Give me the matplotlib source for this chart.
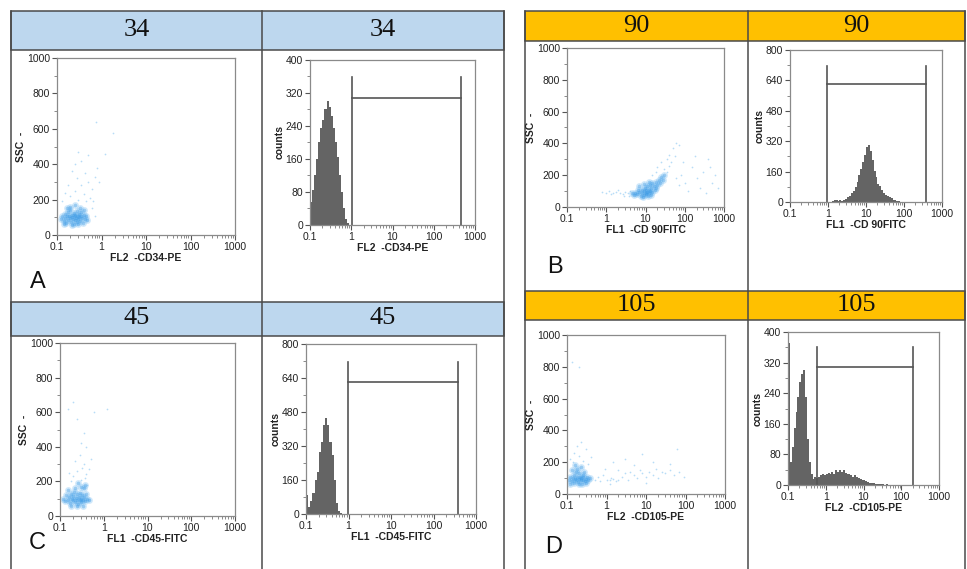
import numpy as np
import matplotlib.pyplot as plt
from matplotlib.patches import Rectangle
from matplotlib.ticker import LogLocator, NullFormatter

W, H = 967, 569

# header titles and panel letters
titles_left = ['34', '45']
titles_right = ['90', '105']
letters = ['A', 'B', 'C', 'D']

# ---- dot plots (FLx vs SSC) ----
cd34_core_x = [0.12, 0.13, 0.14, 0.15, 0.15, 0.16, 0.17, 0.18, 0.18, 0.19, 0.2, 0.2, 0.21, 0.22, 0.22,
               0.23, 0.24, 0.24, 0.25, 0.25, 0.26, 0.27, 0.28, 0.28, 0.29, 0.3, 0.31, 0.32, 0.33, 0.34,
               0.35, 0.37, 0.38, 0.4, 0.42, 0.45, 0.48, 0.2, 0.26, 0.33, 0.17, 0.3, 0.22, 0.14, 0.4]
cd34_core_y = [90, 110, 80, 120, 95, 70, 105, 130, 85, 110, 95, 140, 75, 115, 100,
               90, 125, 60, 105, 85, 115, 95, 135, 75, 110, 90, 120, 100, 80, 130,
               110, 95, 70, 115, 90, 105, 85, 160, 170, 155, 150, 60, 55, 60, 140]
cd34_sparse_x = [0.2, 0.25, 0.3, 0.35, 0.4, 0.45, 0.5, 0.6, 0.7, 0.8, 0.28, 0.22, 0.35, 0.5, 0.3,
                 0.55, 0.65, 0.9, 1.2, 1.8, 0.25, 0.42, 0.18, 0.15, 0.6, 0.7, 0.13, 0.77]
cd34_sparse_y = [220, 250, 200, 280, 230, 190, 300, 260, 330, 380, 320, 360, 420, 450, 470,
                 210, 190, 300, 460, 575, 400, 350, 280, 240, 150, 110, 190, 640]

cd90_core_x = [6, 7, 7.5, 8, 8, 9, 9, 9.5, 10, 10, 10.5, 11, 11, 12, 12, 13, 13, 14, 15, 15,
               16, 17, 18, 20, 22, 25, 5, 5.5, 4.5, 6.5, 8.5, 11.5, 14, 7, 12, 9, 19, 24, 30, 28]
cd90_core_y = [80, 95, 70, 85, 110, 75, 100, 120, 90, 80, 105, 95, 130, 85, 110, 100, 140, 120, 95, 150,
               130, 110, 160, 140, 170, 190, 75, 90, 85, 110, 65, 70, 75, 130, 160, 145, 120, 150, 200, 170]
cd90_sparse_x = [0.8, 1, 1.2, 1.5, 1.8, 2.2, 2.6, 3, 3.5, 4, 1.3, 2, 2.8, 3.8,
                 20, 25, 30, 35, 40, 45, 50, 60, 70, 55, 35, 18, 15, 40,
                 80, 100, 150, 200, 300, 400, 500, 600, 700, 120, 250, 350, 90, 450, 180, 70, 60]
cd90_sparse_y = [95, 90, 100, 85, 95, 90, 80, 95, 85, 100, 80, 105, 70, 70,
                 250, 280, 240, 300, 330, 280, 370, 400, 390, 320, 220, 220, 200, 260,
                 200, 150, 250, 180, 220, 300, 150, 200, 120, 100, 120, 90, 280, 250, 320, 140, 180]

cd45_core_x = [0.12, 0.13, 0.14, 0.15, 0.16, 0.17, 0.18, 0.19, 0.2, 0.2, 0.21, 0.22, 0.23, 0.24, 0.25,
               0.26, 0.27, 0.28, 0.29, 0.3, 0.31, 0.32, 0.34, 0.36, 0.38, 0.4, 0.42, 0.45, 0.22, 0.3,
               0.35, 0.26, 0.38, 0.18, 0.25, 0.33, 0.15]
cd45_core_y = [100, 85, 120, 95, 110, 75, 130, 100, 90, 115, 140, 80, 105, 125, 95,
               70, 110, 90, 135, 100, 80, 120, 95, 110, 85, 130, 100, 90, 160, 170,
               160, 190, 180, 60, 55, 60, 150]
cd45_sparse_x = [0.2, 0.25, 0.3, 0.35, 0.4, 0.22, 0.28, 0.32, 0.38, 0.18, 0.45, 0.3, 0.35, 0.25,
                 0.15, 0.2, 0.5, 0.6, 1.2, 0.4, 0.16, 0.42]
cd45_sparse_y = [230, 260, 210, 300, 240, 320, 350, 280, 220, 200, 270, 420, 480, 560,
                 620, 660, 330, 600, 620, 400, 250, 180]

cd105_core_x = [0.11, 0.12, 0.13, 0.14, 0.15, 0.15, 0.16, 0.17, 0.17, 0.18, 0.19, 0.2, 0.2, 0.21, 0.22,
                0.23, 0.24, 0.25, 0.25, 0.26, 0.28, 0.3, 0.32, 0.35, 0.38, 0.13, 0.18, 0.22, 0.12, 0.27,
                0.16, 0.2, 0.3]
cd105_core_y = [90, 110, 80, 100, 120, 70, 95, 140, 85, 105, 75, 95, 130, 110, 85,
                100, 65, 120, 90, 105, 80, 95, 110, 85, 100, 150, 160, 170, 60, 140,
                180, 60, 70]
cd105_sparse_x = [0.12, 0.15, 0.18, 0.2, 0.25, 0.3, 0.14, 0.22, 0.35, 0.13, 0.2, 0.4,
                  0.5, 0.6, 0.7, 0.8, 1, 1.2, 1.3, 1.5, 1.7, 2, 2.5, 3, 3.5, 4, 5, 6, 7, 8,
                  10, 12, 15, 18, 20, 25, 30, 40, 50, 70, 90, 1.5, 3, 8, 5, 15, 40, 2, 0.9, 60, 10, 1.2]
cd105_sparse_y = [220, 260, 300, 240, 210, 280, 200, 330, 190, 830, 800, 230,
                  90, 110, 80, 120, 90, 85, 100, 95, 80, 90, 110, 130, 90, 140, 120, 100, 150, 130,
                  110, 140, 120, 160, 100, 140, 130, 150, 120, 140, 110, 200, 220, 250, 180, 200, 190, 150, 160, 280, 70, 60]

# ---- histograms: counts per bin, 20 bins per decade, starting at hist_start ----
cd34_start = 0.1
cd34_counts = [55, 85, 120, 160, 200, 235, 255, 280, 300, 285, 265, 235, 200, 165, 120, 80, 40, 15, 4, 0]
cd34_gate = (1.06, 447, 359, 308)

cd90_start = 1.0
cd90_counts = [0, 2, 5, 12, 8, 3, 10, 5, 8, 15, 25, 30, 45, 60, 80, 105, 140, 175, 210, 250,
               290, 300, 270, 220, 165, 130, 95, 85, 65, 50, 38, 30, 25, 20, 12, 8, 5, 3, 2, 1]
cd90_gate = (0.93, 370, 716, 621)

cd45_start = 0.1
cd45_counts = [90, 35, 60, 100, 160, 200, 290, 340, 420, 450, 420, 340, 280, 160, 50, 12, 4, 2, 0]
cd45_gate = (0.97, 370, 717, 620)

cd105_start = 0.1
cd105_counts = [370, 60, 100, 150, 190, 230, 270, 290, 300, 230, 120, 60, 30, 15, 20, 18, 22, 25, 28, 25,
                30, 32, 28, 35, 30, 38, 35, 40, 35, 38, 32, 30, 28, 25, 22, 25, 20, 18, 15, 12,
                14, 10, 8, 6, 5, 4, 3, 3, 2, 2, 2, 1, 2, 1, 1, 1, 1, 0, 1, 1]
cd105_gate = (0.59, 205, 360, 309)

fig = plt.figure(figsize=(W / 100, H / 100), dpi=100)
plt.rcParams['font.family'] = ['Liberation Sans', 'DejaVu Sans']

bg = fig.add_axes([0, 0, 1, 1])
bg.set_xlim(0, W)
bg.set_ylim(H, 0)
bg.axis('off')

line_c = '#4a4a4a'
# header bands
for (x0, x1, y0, y1, col) in [(11, 504, 11, 50, '#bdd7ee'), (11, 504, 302, 336, '#bdd7ee'),
                              (525, 965, 11, 41, '#ffc000'), (525, 965, 291, 320, '#ffc000')]:
    bg.add_patch(Rectangle((x0, y0), x1 - x0, y1 - y0, facecolor=col, edgecolor=line_c, lw=1.1))
# frame lines
for x in [11, 262, 504]:
    bg.plot([x, x], [11, H], color=line_c, lw=1.1)
for x in [525, 748, 965]:
    bg.plot([x, x], [11, H], color=line_c, lw=1.1)

for txt, cx, cy in [(titles_left[0], 136.5, 30), (titles_left[0], 383, 30),
                    (titles_left[1], 136.5, 318), (titles_left[1], 383, 318),
                    (titles_right[0], 636.5, 25.5), (titles_right[0], 856.5, 25.5),
                    (titles_right[1], 636.5, 305), (titles_right[1], 856.5, 305)]:
    bg.text(cx, cy, txt, ha='center', va='center', fontsize=19, family='Liberation Serif', color='#111')

for lt, lx, ly in zip(letters, [38, 555, 37, 554], [282, 267, 543, 547]):
    bg.text(lx, ly, lt, ha='center', va='center', fontsize=17, color='#111')


def px_axes(x0, y0, x1, y1):
    return fig.add_axes([x0 / W, 1 - y1 / H, (x1 - x0) / W, (y1 - y0) / H])


def style(ax, ymax, ystep, xlabel, ylabel):
    ax.set_xscale('log')
    ax.set_xlim(0.1, 1000)
    ax.set_ylim(0, ymax)
    for s in ax.spines.values():
        s.set_color('#8a8a8a')
        s.set_linewidth(0.9)
    ax.set_xticks([0.1, 1, 10, 100, 1000])
    ax.set_xticklabels(['0.1', '1', '10', '100', '1000'])
    ax.xaxis.set_minor_locator(LogLocator(base=10, subs=range(2, 10), numticks=20))
    ax.xaxis.set_minor_formatter(NullFormatter())
    ax.set_yticks(np.arange(0, ymax + 1, ystep))
    ax.set_yticks(np.arange(ystep / 2, ymax, ystep), minor=True)
    ax.tick_params(which='major', length=3.5, width=0.8, color='#555', labelsize=7.5, pad=1.5,
                   labelcolor='#222')
    ax.tick_params(which='minor', length=2, width=0.6, color='#777')
    ax.set_xlabel(xlabel, fontsize=7.5, fontweight='bold', labelpad=1, color='#222')
    ax.set_ylabel(ylabel, fontsize=7.5, fontweight='bold', labelpad=1, color='#222')
    ax.set_facecolor('none')


def dot_plot(box, cx, cy, sx, sy, xlabel):
    ax = px_axes(*box)
    ax.scatter(sx, sy, s=1.5, color='#7cc0f2', alpha=0.55, lw=0)
    ax.scatter(cx, cy, s=24, color='#7fc1f3', alpha=0.35, lw=0)
    ax.scatter(cx, cy, s=7, color='#2f93e3', alpha=0.35, lw=0)
    style(ax, 1000, 200, xlabel, 'SSC  -')


def histogram(box, start, counts, ymax, ystep, gate, xlabel):
    ax = px_axes(*box)
    edges = start * 10 ** (np.arange(len(counts) + 1) / 20)
    ax.stairs(counts, edges, fill=True, color='#646464')
    lo, hi, top, bar = gate
    ax.plot([lo, lo], [0, top], color='#555', lw=1.2)
    ax.plot([hi, hi], [0, top], color='#555', lw=1.2)
    ax.plot([lo, hi], [bar, bar], color='#555', lw=1.2)
    style(ax, ymax, ystep, xlabel, 'counts')


dot_plot((57, 58, 235, 235), cd34_core_x, cd34_core_y, cd34_sparse_x, cd34_sparse_y, 'FL2  -CD34-PE')
histogram((310, 60, 475, 225), cd34_start, cd34_counts, 400, 80, cd34_gate, 'FL2  -CD34-PE')

dot_plot((567, 48, 724, 207), cd90_core_x, cd90_core_y, cd90_sparse_x, cd90_sparse_y, 'FL1  -CD 90FITC')
histogram((790, 50, 942, 202), cd90_start, cd90_counts, 800, 160, cd90_gate, 'FL1  -CD 90FITC')

dot_plot((60, 343, 235, 516), cd45_core_x, cd45_core_y, cd45_sparse_x, cd45_sparse_y, 'FL1  -CD45-FITC')
histogram((306, 344, 476, 514), cd45_start, cd45_counts, 800, 160, cd45_gate, 'FL1  -CD45-FITC')

dot_plot((567, 335, 725, 494), cd105_core_x, cd105_core_y, cd105_sparse_x, cd105_sparse_y, 'FL2  -CD105-PE')
histogram((788, 332, 939, 485), cd105_start, cd105_counts, 400, 80, cd105_gate, 'FL2  -CD105-PE')

fig.savefig('out.png', dpi=100)
